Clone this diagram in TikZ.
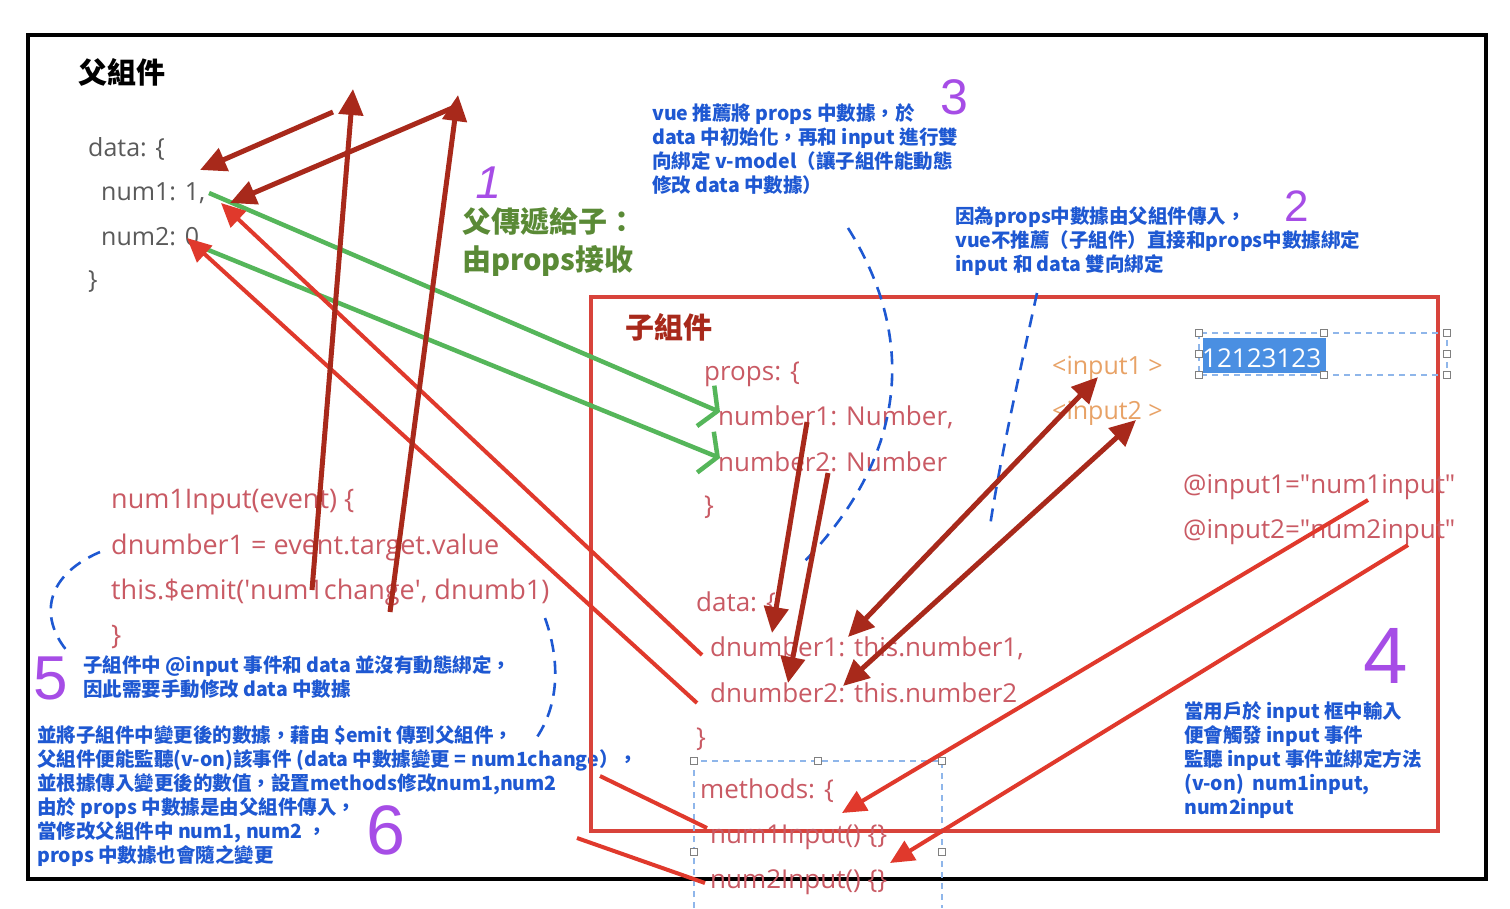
\documentclass[tikz,border=0pt]{standalone}
\usepackage{fontspec}
\setmainfont{Open Sans}
\newfontfamily\cjk{Noto Sans CJK TC}
\newfontfamily\hand{Liberation Sans}
\usetikzlibrary{arrows.meta}
\definecolor{codegray}{HTML}{5A5A5A}
\definecolor{codepink}{HTML}{C95A64}
\definecolor{noteblue}{HTML}{1E58D2}
\definecolor{darkred}{HTML}{A8291B}
\definecolor{brightred}{HTML}{E0392C}
\definecolor{boxred}{HTML}{D8433B}
\definecolor{arrgreen}{HTML}{55B65A}
\definecolor{olivegreen}{HTML}{5A8A36}
\definecolor{handpurple}{HTML}{A64DE6}
\definecolor{inputorange}{HTML}{E8A266}
\definecolor{selblue}{HTML}{4A8FE2}
\definecolor{sellight}{HTML}{8FB6EA}
\begin{document}
\begin{tikzpicture}[x=1pt,y=-1pt,
  codeg/.style={anchor=west,inner sep=0pt,text=codegray,font=\fontsize{25}{30}\selectfont},
  codep/.style={anchor=west,inner sep=0pt,text=codepink,font=\fontsize{26}{30}\selectfont},
  codel/.style={anchor=west,inner sep=0pt,text=codepink,font=\fontsize{27}{30}\selectfont},
  codeo/.style={anchor=west,inner sep=0pt,text=inputorange,font=\fontsize{25}{30}\selectfont},
  note/.style={anchor=north west,inner sep=0pt,align=left,text=noteblue,font=\cjk\bfseries\fontsize{19.5}{24}\selectfont},
  title/.style={anchor=west,inner sep=0pt,font=\cjk\bfseries\fontsize{29}{34}\selectfont},
  hand/.style={inner sep=0pt,text=handpurple,font=\hand},
  darr/.style={draw=darkred,line width=5pt,-{Triangle[length=26pt,width=24pt]}},
  dbarr/.style={draw=darkred,line width=5pt,{Triangle[length=26pt,width=24pt]}-{Triangle[length=26pt,width=24pt]}},
  rarr/.style={draw=brightred,line width=4pt,-{Triangle[length=24pt,width=22pt]}},
  rline/.style={draw=brightred,line width=4pt},
  garr/.style={draw=arrgreen,line width=4.5pt,-{Straight Barb[length=13pt,width=44pt]}},
  bdash/.style={draw=noteblue,line width=2.6pt,dash pattern=on 13pt off 9pt},
  seldash/.style={draw=sellight,line width=1.6pt,dash pattern=on 6pt off 5pt},
  handle/.style={draw=gray,fill=white,line width=1pt,minimum size=7pt,inner sep=0pt,rectangle}
]
\useasboundingbox (0,0) rectangle (1510,908);
\fill[white] (0,0) rectangle (1510,908);

% outer frame
\draw[line width=3.5pt] (28,35) rectangle (1486,879);

% parent component
\node[title] (ptitle) at (78,72) {父組件};
\node[codeg] (pdata) at (88,149) {data: \{};
\node[codeg] (pnum1) at (101,193) {num1: 1,};
\node[codeg] (pnum2) at (101,237) {num2: 0};
\node[codeg] (pclose) at (88,282) {\}};

% green note
\node[anchor=north west,inner sep=0pt,align=left,text=olivegreen,font=\cjk\bfseries\fontsize{29}{38}\selectfont] (gnote) at (462,207) {父傳遞給子：\\由props接收};

% blue notes
\node[note] (n3) at (652,104) {vue 推薦將 props 中數據，於\\data 中初始化，再和 input 進行雙\\向綁定 v-model（讓子組件能動態\\修改 data 中數據）};
\node[note] (n2) at (955,206) {因為props中數據由父組件傳入，\\vue不推薦（子組件）直接和props中數據綁定\\input 和 data 雙向綁定};
\node[note] (n5) at (83,655) {子組件中 @input 事件和 data 並沒有動態綁定，\\因此需要手動修改 data 中數據};
\node[note] (n6) at (37,725) {並將子組件中變更後的數據，藉由 \$emit 傳到父組件，\\父組件便能監聽(v-on)該事件 (data 中數據變更 = num1change），\\並根據傳入變更後的數值，設置methods修改num1,num2\\由於 props 中數據是由父組件傳入，\\當修改父組件中 num1, num2 ，\\props 中數據也會隨之變更};
\node[note] (n4) at (1184,701) {當用戶於 input 框中輸入\\便會觸發 input 事件\\監聽 input 事件並綁定方法\\(v-on)\ \ num1input,\\num2input};

% handwritten numbers
\node[hand,font=\hand\fontsize{46}{46}\selectfont,xslant=0.2] (h1) at (489,183) {1};
\node[hand,font=\hand\fontsize{50}{50}\selectfont] (h3) at (954,97) {3};
\node[hand,font=\hand\fontsize{44}{44}\selectfont] (h2) at (1297,206) {2};
\node[hand,font=\hand\fontsize{80}{80}\selectfont] (h4) at (1386,656) {4};
\node[hand,font=\hand\fontsize{62}{62}\selectfont] (h5) at (51,678) {5};
\node[hand,font=\hand\fontsize{70}{70}\selectfont] (h6) at (386,830) {6};

% left function code
\node[codel] (f1) at (111,502) {num1Input(event) \{};
\node[codel] (f2) at (111,547) {dnumber1 = event.target.value};
\node[codel] (f3) at (111,592) {this.\$emit(\textquotesingle num1change\textquotesingle, dnumb1)};
\node[codel] (f4) at (111,637) {\}};

% child component box
\draw[boxred,line width=4pt] (591,297) rectangle (1438,831);
\node[title,text=darkred] (ctitle) at (625,327) {子組件};
\node[codep] (props) at (704,374) {props: \{};
\node[codep] (nb1) at (718,417) {number1: Number,};
\node[codep] (nb2) at (718,462) {number2: Number};
\node[codep] (pc) at (704,507) {\}};
\node[codep] (cdata) at (696,604) {data: \{};
\node[codep] (dn1) at (710,648) {dnumber1: this.number1,};
\node[codep] (dn2) at (710,693) {dnumber2: this.number2};
\node[codep] (cdc) at (696,739) {\}};
\node[codep] (meth) at (700,791) {methods: \{};
\node[codep] (m1) at (710,837) {num1Input() \{\}};
\node[codep] (m2) at (710,882) {num2Input() \{\}};
\node[codeo] (in1) at (1052,368) {<input1 >};
\node[codeo] (in2) at (1052,413) {<input2 >};
\node[codep] (at1) at (1183,487) {@input1=\textquotedbl num1input\textquotedbl};
\node[codep] (at2) at (1183,532) {@input2=\textquotedbl num2input\textquotedbl};

% input selection
\fill[selblue] (1203,338) rectangle (1326,373);
\node[anchor=west,inner sep=0pt,text=white,font=\fontsize{26}{30}\selectfont] (val) at (1202,358) {12123123};
\draw[seldash] (1199,333) rectangle (1447,375);
\foreach \p/\q in {1199/333,1324/333,1447/333,1199/354,1447/354,1199/375,1324/375,1447/375}
  \node[handle] at (\p,\q) {};

% methods selection
\draw[seldash] (694,908) -- (694,761) -- (942,761) -- (942,908);
\foreach \p/\q in {694/761,818/761,942/761,694/852,942/852}
  \node[handle] at (\p,\q) {};

% blue dashed curves
\coordinate (d1a) at (848,228); \coordinate (d1b) at (800,566);
\draw[bdash] (d1a) .. controls (912,330) and (915,450) .. (d1b);
\coordinate (d2a) at (1037,293); \coordinate (d2b) at (990,526);
\draw[bdash] (d2a) .. controls (1018,380) and (1000,460) .. (d2b);
\coordinate (d3a) at (100,552); \coordinate (d3b) at (68,652);
\draw[bdash] (d3a) .. controls (40,578) and (42,622) .. (d3b);
\coordinate (d4a) at (545,618); \coordinate (d4b) at (535,740);
\draw[bdash] (d4a) .. controls (560,660) and (560,705) .. (d4b);

% endpoints
\coordinate (a1s) at (333,112); \coordinate (a1e) at (200,170);
\coordinate (a2s) at (312,590); \coordinate (a2e) at (353,89);
\coordinate (a3s) at (390,612); \coordinate (a3e) at (458,95);
\coordinate (a4s) at (457,106); \coordinate (a4e) at (230,203);
\coordinate (l1s) at (702,655); \coordinate (l1e) at (221,203);
\coordinate (l2s) at (697,703); \coordinate (l2e) at (187,238);
\coordinate (g1s) at (209,193); \coordinate (g1e) at (720,412);
\coordinate (g2s) at (201,247); \coordinate (g2e) at (720,458);
\coordinate (c1s) at (807,422); \coordinate (c1e) at (772,633);
\coordinate (c2s) at (828,473); \coordinate (c2e) at (788,683);
\coordinate (c3s) at (848,637); \coordinate (c3e) at (1098,377);
\coordinate (c4s) at (843,686); \coordinate (c4e) at (1136,420);
\coordinate (r1s) at (1368,500); \coordinate (r1e) at (842,813);
\coordinate (r2s) at (1408,545); \coordinate (r2e) at (890,863);
\coordinate (r3s) at (600,776); \coordinate (r3e) at (707,828);
\coordinate (r4s) at (577,838); \coordinate (r4e) at (705,883);

% green arrows
\draw[garr] (g1s) -- (g1e);
\draw[garr] (g2s) -- (g2e);

% red arrows
\draw[rarr] (l1s) -- (l1e);
\draw[rarr] (l2s) -- (l2e);
\draw[darr] (a1s) -- (a1e);
\draw[darr] (a2s) -- (a2e);
\draw[darr] (a3s) -- (a3e);
\draw[darr] (a4s) -- (a4e);
\draw[darr] (c1s) -- (c1e);
\draw[darr] (c2s) -- (c2e);
\draw[dbarr] (c3s) -- (c3e);
\draw[dbarr] (c4s) -- (c4e);
\draw[rarr] (r1s) -- (r1e);
\draw[rarr] (r2s) -- (r2e);
\draw[rline] (r3s) -- (r3e);
\draw[rline] (r4s) -- (r4e);
\end{tikzpicture}
\end{document}
